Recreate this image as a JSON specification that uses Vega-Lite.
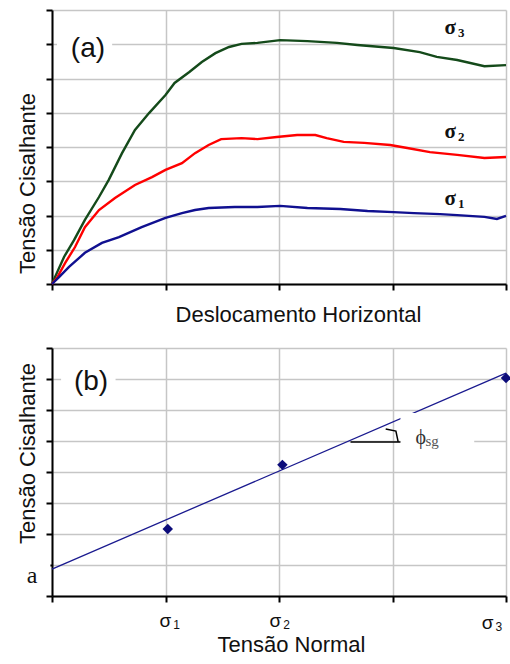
{
  "$schema": "https://vega.github.io/schema/vega-lite/v6.json",
  "padding": {"left": 16, "top": 9, "right": 0, "bottom": 0},
  "spacing": 22,
  "background": "white",
  "config": {
    "view": {"stroke": null},
    "axis": {
      "domainColor": "#000000", "domainWidth": 2,
      "tickColor": "#000000", "tickWidth": 2, "tickSize": 6,
      "labels": false,
      "gridColor": "#c6c6c6", "gridWidth": 1.5,
      "titleFont": "Liberation Sans", "titleFontSize": 22, "titleFontWeight": "normal",
      "titleColor": "#111111", "titleBaseline": "alphabetic"
    }
  },
  "datasets": {
    "curves": [
      {"serie": "s3", "d": 0, "t": 0}, {"serie": "s3", "d": 0.026, "t": 0.2}, {"serie": "s3", "d": 0.106, "t": 0.79},
      {"serie": "s3", "d": 0.194, "t": 1.28}, {"serie": "s3", "d": 0.29, "t": 1.87}, {"serie": "s3", "d": 0.414, "t": 2.54},
      {"serie": "s3", "d": 0.5, "t": 3.04}, {"serie": "s3", "d": 0.617, "t": 3.82}, {"serie": "s3", "d": 0.731, "t": 4.5},
      {"serie": "s3", "d": 0.855, "t": 4.99}, {"serie": "s3", "d": 1.0, "t": 5.52}, {"serie": "s3", "d": 1.08, "t": 5.87},
      {"serie": "s3", "d": 1.21, "t": 6.19}, {"serie": "s3", "d": 1.32, "t": 6.48}, {"serie": "s3", "d": 1.44, "t": 6.74},
      {"serie": "s3", "d": 1.56, "t": 6.92}, {"serie": "s3", "d": 1.67, "t": 7.01}, {"serie": "s3", "d": 1.81, "t": 7.04},
      {"serie": "s3", "d": 2.01, "t": 7.12}, {"serie": "s3", "d": 2.25, "t": 7.09}, {"serie": "s3", "d": 2.51, "t": 7.04},
      {"serie": "s3", "d": 2.69, "t": 6.98}, {"serie": "s3", "d": 3.01, "t": 6.89}, {"serie": "s3", "d": 3.24, "t": 6.77},
      {"serie": "s3", "d": 3.39, "t": 6.63}, {"serie": "s3", "d": 3.57, "t": 6.54}, {"serie": "s3", "d": 3.81, "t": 6.36},
      {"serie": "s3", "d": 4.0, "t": 6.39},
      {"serie": "s2", "d": 0, "t": 0}, {"serie": "s2", "d": 0.044, "t": 0.18}, {"serie": "s2", "d": 0.115, "t": 0.61},
      {"serie": "s2", "d": 0.203, "t": 1.08}, {"serie": "s2", "d": 0.29, "t": 1.66}, {"serie": "s2", "d": 0.414, "t": 2.16},
      {"serie": "s2", "d": 0.555, "t": 2.51}, {"serie": "s2", "d": 0.731, "t": 2.89}, {"serie": "s2", "d": 0.881, "t": 3.12},
      {"serie": "s2", "d": 1.0, "t": 3.33}, {"serie": "s2", "d": 1.145, "t": 3.53}, {"serie": "s2", "d": 1.26, "t": 3.82},
      {"serie": "s2", "d": 1.38, "t": 4.06}, {"serie": "s2", "d": 1.49, "t": 4.23}, {"serie": "s2", "d": 1.67, "t": 4.26},
      {"serie": "s2", "d": 1.81, "t": 4.23}, {"serie": "s2", "d": 1.98, "t": 4.29}, {"serie": "s2", "d": 2.16, "t": 4.35},
      {"serie": "s2", "d": 2.32, "t": 4.35}, {"serie": "s2", "d": 2.42, "t": 4.26}, {"serie": "s2", "d": 2.57, "t": 4.15},
      {"serie": "s2", "d": 2.75, "t": 4.12}, {"serie": "s2", "d": 2.98, "t": 4.06}, {"serie": "s2", "d": 3.13, "t": 3.97},
      {"serie": "s2", "d": 3.33, "t": 3.85}, {"serie": "s2", "d": 3.57, "t": 3.77}, {"serie": "s2", "d": 3.81, "t": 3.68},
      {"serie": "s2", "d": 4.0, "t": 3.71},
      {"serie": "s1", "d": 0, "t": 0}, {"serie": "s1", "d": 0.062, "t": 0.2}, {"serie": "s1", "d": 0.15, "t": 0.5},
      {"serie": "s1", "d": 0.29, "t": 0.91}, {"serie": "s1", "d": 0.44, "t": 1.2}, {"serie": "s1", "d": 0.59, "t": 1.37},
      {"serie": "s1", "d": 0.79, "t": 1.66}, {"serie": "s1", "d": 1.0, "t": 1.93}, {"serie": "s1", "d": 1.145, "t": 2.07},
      {"serie": "s1", "d": 1.26, "t": 2.16}, {"serie": "s1", "d": 1.38, "t": 2.22}, {"serie": "s1", "d": 1.61, "t": 2.25},
      {"serie": "s1", "d": 1.81, "t": 2.25}, {"serie": "s1", "d": 2.01, "t": 2.28}, {"serie": "s1", "d": 2.25, "t": 2.22},
      {"serie": "s1", "d": 2.54, "t": 2.19}, {"serie": "s1", "d": 2.78, "t": 2.13}, {"serie": "s1", "d": 3.01, "t": 2.1},
      {"serie": "s1", "d": 3.19, "t": 2.07}, {"serie": "s1", "d": 3.42, "t": 2.04}, {"serie": "s1", "d": 3.57, "t": 2.01},
      {"serie": "s1", "d": 3.81, "t": 1.96}, {"serie": "s1", "d": 3.92, "t": 1.9}, {"serie": "s1", "d": 4.0, "t": 1.99}
    ],
    "sigA": [
      {"d": 3.56, "t": 7.3, "s": "3"},
      {"d": 3.56, "t": 4.26, "s": "2"},
      {"d": 3.56, "t": 2.31, "s": "1"}
    ],
    "sigB": [
      {"d": 1.05, "t": -1.0, "s": "1"},
      {"d": 2.02, "t": -1.0, "s": "2"},
      {"d": 3.89, "t": -1.08, "s": "3"}
    ]
  },
  "vconcat": [
    {
      "width": 454,
      "height": 274,
      "encoding": {
        "x": {"field": "d", "type": "quantitative",
          "scale": {"domain": [0, 4], "nice": false, "zero": false},
          "axis": {"values": [0, 1, 2, 3, 4], "title": "Deslocamento Horizontal", "titleX": 246, "titleY": 37}},
        "y": {"field": "t", "type": "quantitative",
          "scale": {"domain": [0, 8], "nice": false, "zero": false},
          "axis": {"values": [0, 1, 2, 3, 4, 5, 6, 7, 8], "title": "Tensão Cisalhante", "titleX": -18, "titleY": 173}}
      },
      "layer": [
        {
          "data": {"name": "curves"},
          "mark": {"type": "line", "strokeWidth": 2.4},
          "encoding": {
            "color": {"field": "serie", "type": "nominal",
              "scale": {"domain": ["s1", "s2", "s3"], "range": ["#101090", "#ff0000", "#144a1a"]}, "legend": null}
          }
        },
        {
          "data": {"values": [{"d": 0.044, "d2": 0.53, "t": 6.6, "t2": 7.3}]},
          "mark": {"type": "rect", "fill": "white"},
          "encoding": {
            "x2": {"field": "d2"},
            "y2": {"field": "t2"}
          }
        },
        {
          "data": {"values": [{"d": 0.317, "t": 6.63, "label": "(a)"}]},
          "mark": {"type": "text", "font": "Liberation Sans", "fontSize": 28, "align": "center", "baseline": "alphabetic", "color": "#111111"},
          "encoding": {
            "text": {"field": "label"}
          }
        },
        {
          "data": {"name": "sigA"},
          "mark": {"type": "text", "text": "σ", "font": "Liberation Serif", "fontSize": 21, "fontWeight": "bold", "align": "right", "baseline": "alphabetic", "color": "#111111"},
          "encoding": {}
        },
        {
          "data": {"name": "sigA"},
          "mark": {"type": "text", "font": "Liberation Serif", "fontSize": 13, "fontWeight": "bold", "align": "left", "baseline": "alphabetic", "dx": 2, "dy": 3, "color": "#111111"},
          "encoding": {
            "text": {"field": "s"}
          }
        }
      ]
    },
    {
      "width": 454,
      "height": 248,
      "encoding": {
        "x": {"field": "d", "type": "quantitative",
          "scale": {"domain": [0, 4], "nice": false, "zero": false},
          "axis": {"values": [0, 1, 2, 3, 4], "title": "Tensão Normal", "titleX": 239, "titleY": 55}},
        "y": {"field": "t", "type": "quantitative",
          "scale": {"domain": [0, 8], "nice": false, "zero": false},
          "axis": {"values": [0, 1, 2, 3, 4, 5, 6, 7, 8], "title": "Tensão Cisalhante", "titleX": -18, "titleY": 105}}
      },
      "layer": [
        {
          "data": {"values": [{"d": 0, "t": 0.87}, {"d": 4, "t": 7.19}]},
          "mark": {"type": "line", "strokeWidth": 1.3, "color": "#1a1a8f"},
          "encoding": {}
        },
        {
          "data": {"values": [
            {"d": 3.07, "d2": 3.72, "t": 4.06, "t2": 5.9},
            {"d": 0.08, "d2": 0.56, "t": 6.6, "t2": 7.3},
            {"d": -0.3, "d2": -0.014, "t": 0.55, "t2": 1.3}
          ]},
          "mark": {"type": "rect", "fill": "white"},
          "encoding": {
            "x2": {"field": "d2"},
            "y2": {"field": "t2"}
          }
        },
        {
          "data": {"values": [
            {"seg": "h", "o": 0, "d": 2.63, "t": 4.97},
            {"seg": "h", "o": 1, "d": 3.07, "t": 4.97},
            {"seg": "k", "o": 0, "d": 2.94, "t": 5.39},
            {"seg": "k", "o": 1, "d": 3.03, "t": 5.32},
            {"seg": "k", "o": 2, "d": 3.05, "t": 4.97}
          ]},
          "mark": {"type": "line", "color": "#000000", "strokeWidth": 1.5},
          "encoding": {
            "detail": {"field": "seg"},
            "order": {"field": "o"}
          }
        },
        {
          "data": {"values": [{"d": 1.02, "t": 2.16}, {"d": 2.03, "t": 4.23}, {"d": 4.0, "t": 7.03}]},
          "mark": {"type": "point", "shape": "diamond", "filled": true, "size": 110, "color": "#0c0c7a", "opacity": 1},
          "encoding": {}
        },
        {
          "data": {"values": [{"d": 0.344, "t": 6.65, "label": "(b)"}]},
          "mark": {"type": "text", "font": "Liberation Sans", "fontSize": 28, "align": "center", "baseline": "alphabetic", "color": "#111111"},
          "encoding": {
            "text": {"field": "label"}
          }
        },
        {
          "data": {"values": [{"d": -0.176, "t": 0.42, "label": "a"}]},
          "mark": {"type": "text", "font": "Liberation Serif", "fontSize": 24, "align": "center", "baseline": "alphabetic", "color": "#111111"},
          "encoding": {
            "text": {"field": "label"}
          }
        },
        {
          "data": {"values": [{"d": 3.25, "t": 4.9, "label": "ϕ"}]},
          "mark": {"type": "text", "font": "Liberation Serif", "fontSize": 20, "align": "center", "baseline": "alphabetic", "color": "#333333"},
          "encoding": {
            "text": {"field": "label"}
          }
        },
        {
          "data": {"values": [{"d": 3.29, "t": 4.84, "label": "sg"}]},
          "mark": {"type": "text", "font": "Liberation Serif", "fontSize": 15, "align": "left", "baseline": "alphabetic", "color": "#555555"},
          "encoding": {
            "text": {"field": "label"}
          }
        },
        {
          "data": {"name": "sigB"},
          "mark": {"type": "text", "text": "σ", "font": "Liberation Sans", "fontSize": 19, "align": "right", "baseline": "alphabetic", "color": "#111111"},
          "encoding": {}
        },
        {
          "data": {"name": "sigB"},
          "mark": {"type": "text", "font": "Liberation Sans", "fontSize": 12, "align": "left", "baseline": "alphabetic", "dx": 2, "dy": 2, "color": "#111111"},
          "encoding": {
            "text": {"field": "s"}
          }
        }
      ]
    }
  ]
}
